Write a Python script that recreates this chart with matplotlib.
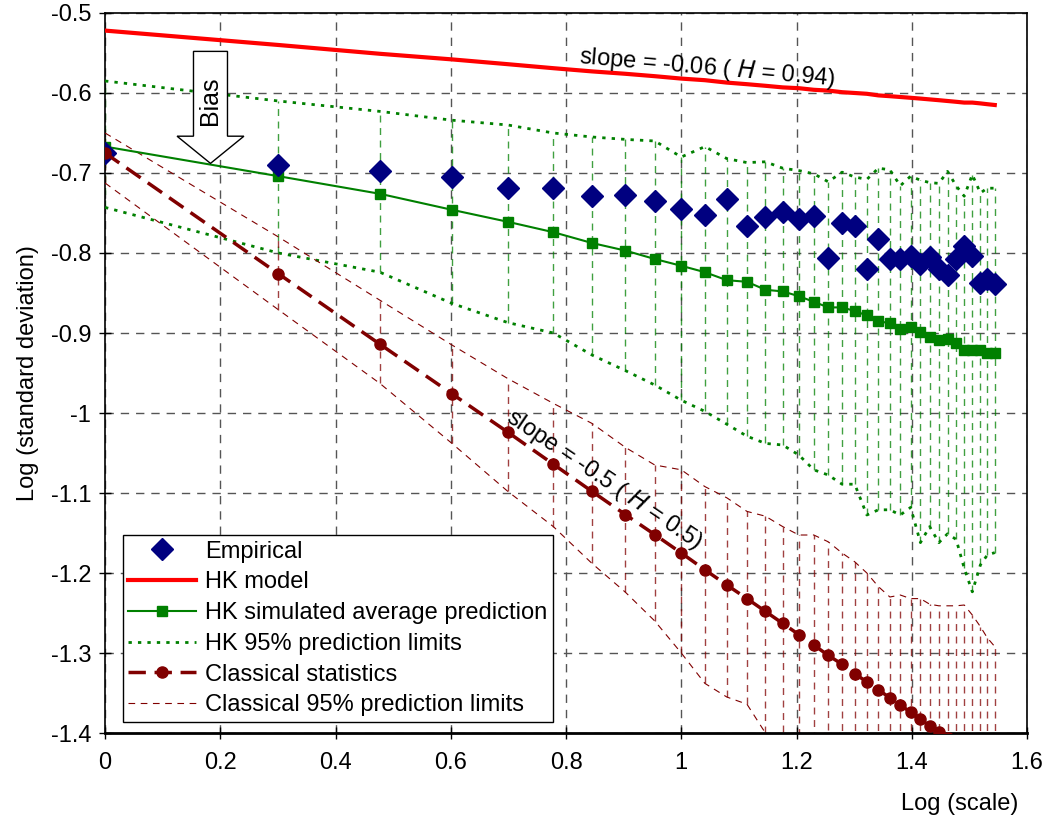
import matplotlib
matplotlib.use('Agg')
import matplotlib.pyplot as plt
from matplotlib.patches import FancyArrow
from matplotlib.ticker import FuncFormatter

plt.rcParams['font.family'] = ['Liberation Sans', 'DejaVu Sans']

# log10 of scale k = 1..35
log_scale = [0.0, 0.301, 0.477, 0.602, 0.699, 0.778, 0.845, 0.903, 0.954, 1.0,
             1.041, 1.079, 1.114, 1.146, 1.176, 1.204, 1.230, 1.255, 1.279, 1.301,
             1.322, 1.342, 1.362, 1.380, 1.398, 1.415, 1.431, 1.447, 1.462, 1.477,
             1.491, 1.505, 1.519, 1.531, 1.544]

empirical = [-0.675, -0.690, -0.697, -0.705, -0.719, -0.719, -0.729, -0.7275, -0.735, -0.745,
             -0.753, -0.733, -0.766, -0.755, -0.749, -0.7575, -0.754, -0.806, -0.762, -0.766,
             -0.820, -0.782, -0.807, -0.808, -0.804, -0.814, -0.805, -0.820, -0.8275, -0.808,
             -0.791, -0.804, -0.838, -0.833, -0.839]

hk_model = [-0.522, -0.540, -0.551, -0.558, -0.564, -0.569, -0.573, -0.576, -0.579, -0.582,
            -0.584, -0.587, -0.589, -0.591, -0.593, -0.594, -0.596, -0.597, -0.599, -0.600,
            -0.601, -0.603, -0.604, -0.605, -0.606, -0.607, -0.608, -0.609, -0.610, -0.611,
            -0.612, -0.612, -0.613, -0.614, -0.615]

hk_avg = [-0.667, -0.704, -0.726, -0.746, -0.761, -0.774, -0.7875, -0.797, -0.8075, -0.816,
          -0.824, -0.834, -0.836, -0.846, -0.848, -0.854, -0.861, -0.868, -0.868, -0.8725,
          -0.878, -0.885, -0.888, -0.895, -0.893, -0.899, -0.905, -0.909, -0.907, -0.913,
          -0.921, -0.921, -0.921, -0.9245, -0.9245]

hk_upper = [-0.585, -0.610, -0.623, -0.634, -0.640, -0.650, -0.655, -0.658, -0.660, -0.680,
            -0.667, -0.682, -0.687, -0.686, -0.694, -0.697, -0.701, -0.711, -0.699, -0.705,
            -0.708, -0.694, -0.696, -0.716, -0.704, -0.709, -0.712, -0.713, -0.698, -0.716,
            -0.729, -0.702, -0.725, -0.719, -0.719]

hk_lower = [-0.743, -0.800, -0.824, -0.863, -0.887, -0.900, -0.9275, -0.947, -0.965, -0.984,
            -0.998, -1.014, -1.029, -1.038, -1.040, -1.0525, -1.071, -1.0775, -1.089, -1.089,
            -1.1275, -1.121, -1.121, -1.1275, -1.118, -1.162, -1.142, -1.162, -1.151, -1.158,
            -1.194, -1.2235, -1.190, -1.1775, -1.1745]

classical = [-0.675, -0.826, -0.914, -0.976, -1.024, -1.064, -1.098, -1.127, -1.152, -1.175,
             -1.196, -1.215, -1.232, -1.248, -1.263, -1.277, -1.290, -1.303, -1.314, -1.326,
             -1.336, -1.346, -1.356, -1.365, -1.374, -1.383, -1.391, -1.399, -1.406, -1.414,
             -1.421, -1.428, -1.434, -1.441, -1.447]

cl_upper = [-0.650, -0.780, -0.859, -0.915, -0.957, -0.988, -1.013, -1.043, -1.065, -1.071,
            -1.092, -1.106, -1.123, -1.129, -1.142, -1.1525, -1.1525, -1.161, -1.175, -1.186,
            -1.200, -1.217, -1.230, -1.2275, -1.232, -1.232, -1.239, -1.241, -1.241, -1.241,
            -1.240, -1.2525, -1.267, -1.281, -1.292]

cl_lower = [-0.7125, -0.871, -0.963, -1.038, -1.098, -1.142, -1.188, -1.224, -1.260, -1.300,
            -1.338, -1.355, -1.364, -1.400, -1.43, -1.45, -1.47, -1.49, -1.51, -1.53,
            -1.55, -1.56, -1.57, -1.58, -1.59, -1.60, -1.61, -1.62, -1.63, -1.64,
            -1.65, -1.66, -1.67, -1.68, -1.69]

green = '#008000'
dred = '#800000'
navy = '#000080'

fig = plt.figure(figsize=(10.43, 8.17), dpi=100)
ax = fig.add_axes([0.1007, 0.1028, 0.884, 0.8813])

# high-low lines
ax.vlines(log_scale, hk_lower, hk_upper, colors=green, linestyles=(0, (5, 4)), linewidth=1.0, alpha=0.75, zorder=2)
ax.vlines(log_scale, cl_lower, cl_upper, colors=dred, linestyles=(0, (5, 4)), linewidth=1.0, alpha=0.75, zorder=2)

ax.plot(log_scale, hk_upper, color=green, linestyle=(0, (1.2, 2.2)), linewidth=2, zorder=3)
ax.plot(log_scale, hk_lower, color=green, linestyle=(0, (1.2, 2.2)), linewidth=2, zorder=3)
ax.plot(log_scale, cl_upper, color=dred, linestyle=(0, (6, 5)), linewidth=0.8, zorder=3)
ax.plot(log_scale, cl_lower, color=dred, linestyle=(0, (6, 5)), linewidth=0.8, zorder=3)

ax.plot(log_scale, hk_model, color='red', linewidth=3, zorder=4)
ax.plot(log_scale, hk_avg, color=green, linewidth=1.5, marker='s', markersize=7, zorder=4)
ax.plot(log_scale, empirical, linestyle='none', marker='D', markersize=11, color=navy, zorder=5)
ax.plot(log_scale, classical, color=dred, linewidth=2.5, linestyle=(0, (5, 2.5)),
        marker='o', markersize=8, zorder=6)

# legend handles
h_emp, = ax.plot([], [], linestyle='none', marker='D', markersize=11, color=navy)
h_hk, = ax.plot([], [], color='red', linewidth=3)
h_avg, = ax.plot([], [], color=green, linewidth=1.5, marker='s', markersize=7)
h_lim, = ax.plot([], [], color=green, linestyle=(0, (1.2, 2.2)), linewidth=2)
h_cl, = ax.plot([], [], color=dred, linewidth=2.5, linestyle=(0, (5, 2.5)), marker='o', markersize=8)
h_cll, = ax.plot([], [], color=dred, linestyle=(0, (6, 5)), linewidth=0.8)
leg = ax.legend([h_emp, h_hk, h_avg, h_lim, h_cl, h_cll],
                ['Empirical', 'HK model', 'HK simulated average prediction',
                 'HK 95% prediction limits', 'Classical statistics',
                 'Classical 95% prediction limits'],
                loc='lower left', bbox_to_anchor=(0.019, 0.015), fontsize=17,
                frameon=True, fancybox=False, framealpha=1, edgecolor='black',
                handlelength=2.85, labelspacing=0.37, borderpad=0.25, handletextpad=0.4,
                borderaxespad=0)
leg.get_frame().set_linewidth(1.0)
leg.set_zorder(10)

# annotations
arrow = FancyArrow(0.183, -0.548, 0, -0.14, width=0.059, head_width=0.116, head_length=0.034,
                   length_includes_head=True, facecolor='white', edgecolor='black',
                   linewidth=1.0, zorder=7)
ax.add_patch(arrow)
ax.text(0.183, -0.61, 'Bias', rotation=90, ha='center', va='center', fontsize=18, zorder=8)
ax.text(1.046, -0.569, r'slope = -0.06 ( $\mathit{H}$ = 0.94)', rotation=-5, ha='center',
        va='center', fontsize=17, zorder=8)
ax.text(0.866, -1.083, r'slope = -0.5 ( $\mathit{H}$ = 0.5)', rotation=-34, ha='center',
        va='center', fontsize=17, zorder=8)

ax.set_xlim(0, 1.6)
ax.set_ylim(-1.4, -0.5)
ax.set_xticks([0, 0.2, 0.4, 0.6, 0.8, 1.0, 1.2, 1.4, 1.6])
ax.set_yticks([-1.4, -1.3, -1.2, -1.1, -1.0, -0.9, -0.8, -0.7, -0.6, -0.5])
ax.xaxis.set_major_formatter(FuncFormatter(lambda v, p: '%g' % round(v, 2)))
ax.yaxis.set_major_formatter(FuncFormatter(lambda v, p: '%g' % round(v, 2)))
ax.tick_params(direction='inout', length=8, labelsize=17, color='black', width=1)
ax.tick_params(axis='x', pad=10)
ax.tick_params(axis='y', pad=6)
ax.grid(True, color='#555555', linestyle=(0, (6, 5)), linewidth=1.0)
ax.set_axisbelow(True)
for s in ax.spines.values():
    s.set_linewidth(1.2)
    s.set_color('black')
ax.spines['bottom'].set_linewidth(2)

ax.set_ylabel('Log (standard deviation)', fontsize=17, labelpad=8)
fig.text(0.976, 0.003, 'Log (scale)', ha='right', va='bottom', fontsize=17)

fig.savefig('out.png', dpi=100)
